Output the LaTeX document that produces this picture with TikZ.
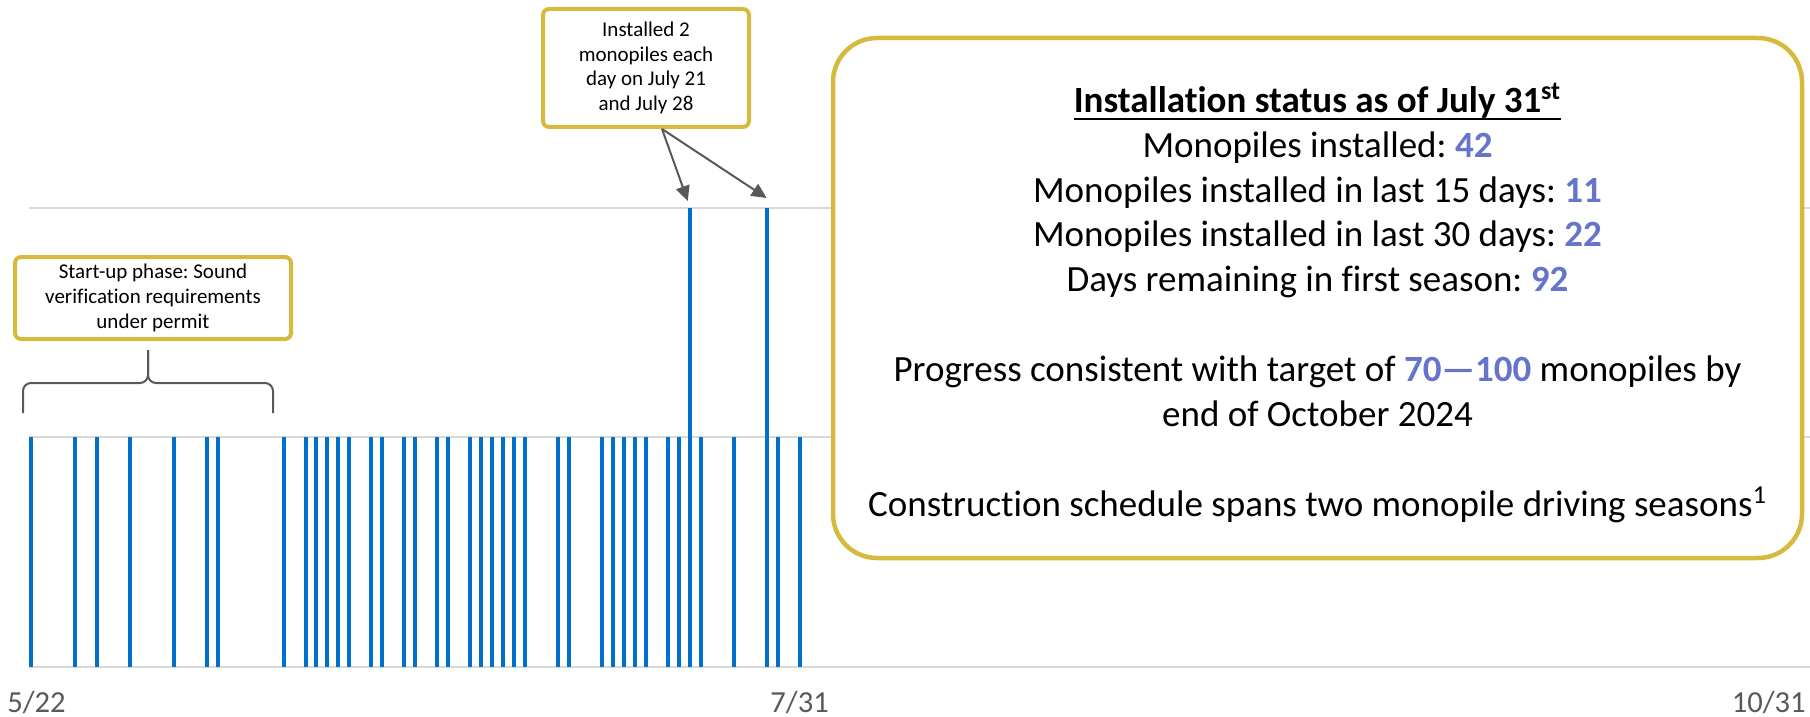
\documentclass[tikz,border=0pt]{standalone}
\usepackage{fontspec}
\setmainfont{Carlito}[Ligatures={TeX,NoCommon}]
\usetikzlibrary{arrows.meta}
\frenchspacing

\definecolor{barblue}{HTML}{0070CC}
\definecolor{gold}{HTML}{D6BA3E}
\definecolor{statblue}{HTML}{6674CC}
\definecolor{axisgray}{HTML}{595959}
\definecolor{gridgray}{HTML}{D9D9D9}

\newcommand{\statnum}[1]{\textbf{\color{statblue}#1}}
\newcommand{\ulbold}[1]{\setbox0\hbox{\textbf{#1}}\rlap{\rule[-4pt]{\wd0}{1pt}}\box0}

\begin{document}
\begin{tikzpicture}[x=0.5pt, y=-0.5pt]
	\tikzset{callout/.style={draw=gold, line width=2pt, rounded corners=3pt, fill=white, align=center, inner sep=0pt, font=\fontsize{10.5pt}{12.4pt}\selectfont}}
	\tikzset{bar/.style={draw=barblue, line width=2pt}}
	\tikzset{grid line/.style={draw=gridgray, line width=0.9pt}}
	\tikzset{pointer/.style={draw=axisgray, line width=1pt, -{Triangle[length=7.5pt,width=7pt]}}}
	\tikzset{date/.style={text=axisgray, font=\fontsize{15.3pt}{18pt}\selectfont, inner sep=0pt}}

	\useasboundingbox (0,0) rectangle (1810,717);

	% grid and axis
	\draw[grid line] (29,208) -- (1810,208);
	\draw[grid line] (29,437) -- (1810,437);
	\draw[grid line] (29,667) -- (1810,667);

	% days since 5/22 with one monopile
	\foreach \d in {0,4,6,9,13,16,17,23,25,26,27,28,29,31,32,34,35,37,38,40,41,42,43,44,45,48,49,52,53,54,55,56,58,59,61,64,68,70}
		\draw[bar] ({31+10.98*\d},667) -- ({31+10.98*\d},437);

	% days with two
	\coordinate (jul21) at ({31+10.98*60},208);
	\coordinate (jul28) at ({31+10.98*67},208);
	\draw[bar] ({31+10.98*60},667) -- (jul21);
	\draw[bar] ({31+10.98*67},667) -- (jul28);

	\node[date, anchor=base west] (d522) at (7,712) {5/22};
	\node[date, anchor=base] (d731) at ({31+10.98*70},712) {7/31};
	\node[date, anchor=base east] (d1031) at (1806,712) {10/31};

	% start-up phase
	\node[callout, minimum width=138pt, minimum height=41pt] (startup) at (153,298) {Start-up phase: Sound\\verification requirements\\under permit};
	\coordinate (brL) at (23,413);
	\coordinate (brR) at (273,413);
	\coordinate (brTip) at (148,350);
	\draw[axisgray, line width=1pt, rounded corners=4pt] (brL) |- (148,383) -- (brTip);
	\draw[axisgray, line width=1pt, rounded corners=4pt] (brR) |- (148,383) -- (brTip);

	\node[callout, minimum width=103pt, minimum height=59pt] (installed) at (646,68) {Installed 2\\monopiles each\\day on July 21\\and July 28};
	\coordinate (instFoot) at ([xshift=8pt]installed.south);
	\draw[pointer] (instFoot) -- ([shift={(-2,-7)}]jul21);
	\draw[pointer] (instFoot) -- ([shift={(0,-10)}]jul28);

	\node[draw=gold, line width=2.25pt, rounded corners=22pt, fill=white, align=center, inner sep=0pt,
		minimum width=484.5pt, minimum height=260pt, font=\fontsize{18.5pt}{22.45pt}\selectfont] (status) at (1317.5,298)
		{\rule{0pt}{19.5pt}\ulbold{Installation status as of July 31\textsuperscript{st}}\\
		Monopiles installed: \statnum{42}\\
		Monopiles installed in last 15 days: \statnum{11}\\
		Monopiles installed in last 30 days: \statnum{22}\\
		Days remaining in first season: \statnum{92}\\[22.45pt]
		Progress consistent with target of \statnum{70—100} monopiles by\\
		end of October 2024\\[22.45pt]
		Construction schedule spans two monopile driving seasons\textsuperscript{1}};
\end{tikzpicture}
\end{document}
